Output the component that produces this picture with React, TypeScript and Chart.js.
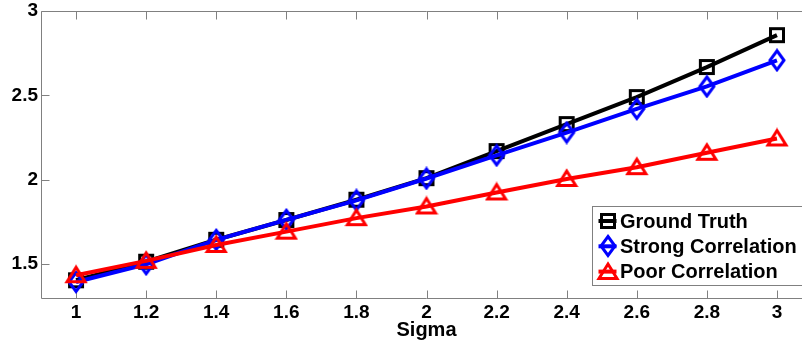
import React, { useEffect, useRef } from "react";
import { Chart, registerables } from "chart.js";

Chart.register(...registerables);

const sigma = [1, 1.2, 1.4, 1.6, 1.8, 2, 2.2, 2.4, 2.6, 2.8, 3];
const groundTruth = [1.405, 1.515, 1.645, 1.762, 1.882, 2.01, 2.17, 2.33, 2.49, 2.668, 2.857];
const strongCorrelation = [1.395, 1.5, 1.644, 1.763, 1.878, 2.008, 2.145, 2.28, 2.42, 2.553, 2.708];
const poorCorrelation = [1.435, 1.52, 1.614, 1.693, 1.773, 1.842, 1.925, 2.005, 2.075, 2.16, 2.245];
const seriesLabels = ["Ground Truth", "Strong Correlation", "Poor Correlation"];
const seriesColors = ["#000000", "#0000ff", "#ff0000"];
const xTicks = [1, 1.2, 1.4, 1.6, 1.8, 2, 2.2, 2.4, 2.6, 2.8, 3];
const yTicks = [1.5, 2, 2.5, 3];
const xTitle = "Sigma";

const FONT = "'Liberation Sans', Arial, Helvetica, sans-serif";

function makeMarker(kind: string, color: string): HTMLCanvasElement {
  const c = document.createElement("canvas");
  const ctx = c.getContext("2d")!;
  if (kind === "square") {
    c.width = 18; c.height = 18;
    ctx.strokeStyle = color; ctx.lineWidth = 3;
    ctx.strokeRect(2.5, 2.5, 13, 13);
  } else if (kind === "diamond") {
    c.width = 20; c.height = 24;
    ctx.strokeStyle = color; ctx.lineWidth = 3; ctx.lineJoin = "miter";
    ctx.beginPath();
    ctx.moveTo(10, 2.5); ctx.lineTo(17, 12); ctx.lineTo(10, 21.5); ctx.lineTo(3, 12); ctx.closePath();
    ctx.stroke();
  } else {
    c.width = 24; c.height = 22;
    ctx.strokeStyle = color; ctx.lineWidth = 3; ctx.lineJoin = "miter";
    ctx.beginPath();
    ctx.moveTo(12, 3); ctx.lineTo(21, 17.5); ctx.lineTo(3, 17.5); ctx.closePath();
    ctx.stroke();
  }
  return c;
}

export default function App() {
  const ref = useRef<HTMLCanvasElement | null>(null);

  useEffect(() => {
    if (!ref.current) return;
    const markers = [
      makeMarker("square", seriesColors[0]),
      makeMarker("diamond", seriesColors[1]),
      makeMarker("triangle", seriesColors[2]),
    ];
    const values = [groundTruth, strongCorrelation, poorCorrelation];

    const framePlugin = {
      id: "frame",
      beforeDatasetsDraw(chart: any) {
        const { ctx, chartArea, scales } = chart;
        const { left, right, top, bottom } = chartArea;
        ctx.save();
        ctx.strokeStyle = "#808080";
        ctx.lineWidth = 1;
        const L = Math.round(left) + 0.5, R = Math.round(right) - 0.5;
        const T = Math.round(top) + 0.5, B = Math.round(bottom) + 0.5;
        ctx.beginPath();
        ctx.moveTo(L, T); ctx.lineTo(R, T); ctx.lineTo(R, B); ctx.lineTo(L, B); ctx.closePath();
        const tl = 8;
        xTicks.forEach((v) => {
          const px = Math.round(scales.x.getPixelForValue(v)) + 0.5;
          ctx.moveTo(px, B); ctx.lineTo(px, B - tl);
          ctx.moveTo(px, T); ctx.lineTo(px, T + tl);
        });
        yTicks.forEach((v) => {
          const py = Math.round(scales.y.getPixelForValue(v)) + 0.5;
          ctx.moveTo(L, py); ctx.lineTo(L + tl, py);
          ctx.moveTo(R, py); ctx.lineTo(R - tl, py);
        });
        ctx.stroke();
        ctx.restore();
      },
    };

    const legendPlugin = {
      id: "insideLegend",
      afterDraw(chart: any) {
        const { ctx, chartArea } = chart;
        const bx = Math.round(chartArea.right - 220) + 0.5;
        const by = Math.round(chartArea.bottom - 92) + 0.5;
        const bw = 240, bh = 79;
        ctx.save();
        ctx.fillStyle = "#ffffff";
        ctx.fillRect(bx, by, bw, bh);
        ctx.strokeStyle = "#808080";
        ctx.lineWidth = 1;
        ctx.strokeRect(bx, by, bw, bh);
        ctx.font = `bold 20px ${FONT}`;
        ctx.textBaseline = "middle";
        ctx.textAlign = "left";
        seriesLabels.forEach((label, i) => {
          const cy = by + 14.5 + i * 25.3;
          const mx = bx + 15;
          ctx.strokeStyle = seriesColors[i];
          ctx.lineWidth = 4;
          ctx.beginPath();
          ctx.moveTo(mx - 9, cy); ctx.lineTo(mx + 9, cy);
          ctx.stroke();
          const m = markers[i];
          ctx.drawImage(m, Math.round(mx - m.width / 2), Math.round(cy - m.height / 2));
          ctx.fillStyle = "#000000";
          ctx.fillText(label, bx + 27.5, cy + 1);
        });
        ctx.restore();
      },
    };

    const chart = new Chart(ref.current, {
      type: "line",
      data: {
        datasets: values.map((vals, i) => ({
          label: seriesLabels[i],
          data: sigma.map((s, j) => ({ x: s, y: vals[j] })),
          borderColor: seriesColors[i],
          backgroundColor: seriesColors[i],
          borderWidth: 4,
          pointStyle: markers[i] as any,
          pointRadius: 8,
          pointHoverRadius: 8,
          fill: false,
          tension: 0,
          order: 2 - i,
        })),
      },
      options: {
        animation: false,
        responsive: false,
        devicePixelRatio: 1,
        layout: { autoPadding: false, padding: { top: 11, left: 0, right: 0, bottom: 0 } },
        plugins: {
          legend: { display: false },
          tooltip: { enabled: false },
        },
        scales: {
          x: {
            type: "linear",
            min: 0.9,
            max: 3.1,
            afterBuildTicks: (scale: any) => {
              scale.ticks = xTicks.map((v) => ({ value: v }));
            },
            afterFit: (scale: any) => {
              scale.height = 49;
              scale.paddingLeft = 0;
              scale.paddingRight = 0;
            },
            grid: { display: false, drawTicks: false },
            border: { display: false },
            ticks: {
              padding: 5,
              color: "#000000",
              font: { family: FONT, size: 19, weight: "bold", lineHeight: 1 },
              maxRotation: 0,
              autoSkip: false,
              callback: (v: any) => String(Math.round(Number(v) * 10) / 10),
            },
            title: {
              display: true,
              text: xTitle,
              color: "#000000",
              font: { family: FONT, size: 20, weight: "bold" },
              padding: { top: 0, bottom: 5 },
            },
          },
          y: {
            type: "linear",
            min: 1.3,
            max: 3,
            afterBuildTicks: (scale: any) => {
              scale.ticks = yTicks.map((v) => ({ value: v }));
            },
            afterFit: (scale: any) => {
              scale.width = 41;
              scale.paddingTop = 0;
              scale.paddingBottom = 0;
            },
            grid: { display: false, drawTicks: false },
            border: { display: false },
            ticks: {
              padding: 3,
              color: "#000000",
              font: { family: FONT, size: 19, weight: "bold", lineHeight: 1 },
              autoSkip: false,
              callback: (v: any) => String(Math.round(Number(v) * 10) / 10),
            },
          },
        },
      },
      plugins: [framePlugin, legendPlugin],
    } as any);

    return () => chart.destroy();
  }, []);

  return (
    <div style={{ position: "fixed", left: 0, top: 0, width: 802, height: 347, overflow: "hidden", background: "#ffffff" }}>
      <div style={{ position: "absolute", left: 0, top: 0, width: 812, height: 347 }}>
        <canvas ref={ref} width={812} height={347} style={{ display: "block", width: 812, height: 347 }} />
      </div>
    </div>
  );
}
